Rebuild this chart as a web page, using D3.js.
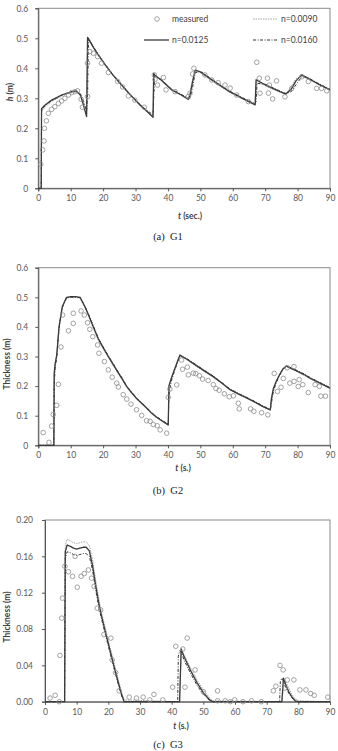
<!DOCTYPE html>
<html>
<head>
<meta charset="utf-8">
<script src="https://cdn.jsdelivr.net/npm/d3@7"></script>
<style>
  body { margin: 0; background: #fff; }
  svg { display: block; font-family: Lato, "Open Sans", sans-serif; }
  .tick text { fill: #595959; font-size: 8.5px; }
  .ttl { font-size: 8.5px; font-weight: bold; fill: #404040; }
  .cap { font-family: "Liberation Serif", serif; font-size: 10.5px; fill: #222; }
  .leg { font-size: 8.5px; fill: #404040; }
</style>
</head>
<body>
<svg id="chart" width="338" height="751"></svg>
<script>
// ---- G1 ----
const tG1 = [0, 0.9, 1.0, 2, 4.1, 7.2, 10.3, 11.8, 13, 14, 14.9, 15.2, 15.5, 17, 18.5, 20.6, 23, 25.7, 28, 30.9, 33, 35.4, 35.6, 35.9, 38, 41.2, 44, 46.3, 46.8, 47.5, 48.4, 50, 54, 59, 63, 66.9, 67.2, 67.5, 70, 72, 74.6, 76.4, 78, 79.5, 81.3, 83, 86, 90];
const g1n0090 = [0, 0, 0.255, 0.27, 0.289, 0.307, 0.319, 0.322, 0.312, 0.28, 0.245, 0.5, 0.495, 0.468, 0.443, 0.41, 0.376, 0.342, 0.314, 0.281, 0.26, 0.24, 0.38, 0.375, 0.358, 0.326, 0.31, 0.298, 0.318, 0.36, 0.392, 0.385, 0.355, 0.32, 0.298, 0.28, 0.358, 0.356, 0.342, 0.332, 0.32, 0.315, 0.338, 0.365, 0.375, 0.365, 0.348, 0.326];
const g1n0125 = [0, 0, 0.265, 0.277, 0.294, 0.311, 0.322, 0.324, 0.31, 0.275, 0.239, 0.503, 0.498, 0.47, 0.445, 0.412, 0.378, 0.344, 0.316, 0.283, 0.262, 0.237, 0.383, 0.378, 0.36, 0.328, 0.312, 0.296, 0.31, 0.35, 0.394, 0.388, 0.358, 0.322, 0.3, 0.278, 0.362, 0.36, 0.345, 0.335, 0.322, 0.314, 0.33, 0.358, 0.378, 0.368, 0.35, 0.328];
const g1n0160 = [0, 0, 0.26, 0.275, 0.292, 0.31, 0.322, 0.325, 0.315, 0.29, 0.255, 0.31, 0.5, 0.472, 0.447, 0.414, 0.38, 0.346, 0.318, 0.285, 0.264, 0.245, 0.3, 0.375, 0.362, 0.33, 0.314, 0.3, 0.3, 0.33, 0.385, 0.39, 0.36, 0.324, 0.302, 0.282, 0.29, 0.35, 0.347, 0.337, 0.324, 0.316, 0.322, 0.345, 0.372, 0.37, 0.352, 0.33];
const g1MeasT = [0.74, 1.35, 1.75, 1.9, 2.5, 3.1, 4.1, 5.1, 6.2, 7.2, 8.2, 9.3, 10.3, 11.3, 12.1, 13.2, 13.6, 15.2, 15.2, 15.9, 17, 18.3, 19.5, 21.6, 24.5, 26, 27.8, 29.8, 32.7, 35.8, 36, 36.8, 38.6, 39.4, 42.2, 46.3, 46.8, 47.6, 48, 51.4, 53.5, 55.5, 57.6, 59.2, 61.2, 64.8, 67.4, 68.2, 68.4, 70.7, 71, 72.3, 73.5, 71.3, 76.1, 78.2, 81.3, 83.3, 85.9, 87.4, 89];
const g1MeasH = [0.08, 0.128, 0.158, 0.2, 0.225, 0.25, 0.263, 0.272, 0.283, 0.291, 0.3, 0.311, 0.319, 0.322, 0.325, 0.297, 0.27, 0.417, 0.306, 0.456, 0.45, 0.439, 0.417, 0.386, 0.356, 0.338, 0.308, 0.294, 0.27, 0.378, 0.363, 0.344, 0.369, 0.328, 0.322, 0.306, 0.317, 0.381, 0.4, 0.378, 0.361, 0.352, 0.344, 0.334, 0.311, 0.289, 0.42, 0.367, 0.317, 0.367, 0.317, 0.298, 0.358, 0.344, 0.305, 0.333, 0.372, 0.356, 0.333, 0.333, 0.325];

// ---- G2 ----
const tG2 = [0, 4.8, 4.9, 5.2, 5.7, 6.4, 7.4, 8.7, 10, 11.5, 12.9, 14.4, 15.5, 17, 18.5, 20, 21.6, 23, 24.5, 26, 27.3, 29, 30.5, 31.9, 33.5, 35, 36.5, 38, 40.1, 40.3, 41, 42, 43, 43.7, 46, 48, 51, 54, 57, 59.2, 62, 64.3, 67, 69.5, 71.6, 71.9, 72.5, 73.3, 74.5, 75.5, 76.5, 78, 80, 82, 84, 86, 88, 90];
const g2n0090 = [0, 0, 0.25, 0.28, 0.31, 0.405, 0.47, 0.498, 0.5, 0.5, 0.497, 0.463, 0.435, 0.395, 0.355, 0.326, 0.296, 0.271, 0.245, 0.219, 0.196, 0.173, 0.154, 0.14, 0.123, 0.106, 0.093, 0.082, 0.067, 0.205, 0.228, 0.258, 0.287, 0.302, 0.287, 0.272, 0.25, 0.229, 0.205, 0.186, 0.17, 0.158, 0.143, 0.128, 0.118, 0.16, 0.193, 0.215, 0.242, 0.26, 0.266, 0.258, 0.248, 0.237, 0.224, 0.213, 0.202, 0.191];
const g2n0125 = [0, 0, 0.24, 0.275, 0.305, 0.40, 0.468, 0.50, 0.502, 0.502, 0.50, 0.468, 0.44, 0.40, 0.36, 0.33, 0.30, 0.275, 0.248, 0.222, 0.198, 0.175, 0.156, 0.142, 0.125, 0.108, 0.095, 0.084, 0.069, 0.2, 0.225, 0.255, 0.285, 0.305, 0.29, 0.275, 0.253, 0.232, 0.207, 0.188, 0.172, 0.16, 0.145, 0.13, 0.12, 0.155, 0.19, 0.213, 0.24, 0.258, 0.268, 0.26, 0.25, 0.239, 0.226, 0.215, 0.204, 0.193];
const g2n0160 = [0, 0, 0.2, 0.26, 0.298, 0.395, 0.465, 0.497, 0.5, 0.5, 0.499, 0.47, 0.443, 0.403, 0.363, 0.333, 0.303, 0.278, 0.251, 0.225, 0.2, 0.177, 0.158, 0.144, 0.127, 0.11, 0.097, 0.086, 0.071, 0.17, 0.215, 0.25, 0.282, 0.303, 0.292, 0.277, 0.255, 0.234, 0.209, 0.19, 0.174, 0.162, 0.147, 0.132, 0.122, 0.14, 0.18, 0.208, 0.237, 0.256, 0.268, 0.262, 0.252, 0.241, 0.228, 0.217, 0.206, 0.195];
const g2MeasT = [1.5, 3.3, 4.1, 4.6, 5.7, 6.2, 7.0, 7.5, 9.3, 10.8, 10.8, 13.2, 14.2, 15.2, 15.9, 16.8, 18.3, 18.7, 20.4, 21.6, 22.8, 24.2, 24.7, 26.2, 27.3, 28.6, 30.3, 31.9, 33.4, 34.5, 35.5, 36.7, 37.6, 39.6, 40.1, 40.6, 42.7, 44.2, 44.5, 46, 46.3, 47.8, 48.6, 49.7, 50.7, 52.4, 54, 54.8, 55.8, 57.4, 58.9, 60.2, 61.7, 62, 65.5, 66.5, 68.9, 70.8, 72.8, 73.8, 74.9, 75.6, 76.8, 78.9, 77.6, 78.9, 80.5, 80.2, 81.6, 83.3, 85.4, 86.7, 87.2, 88.6];
const g2MeasH = [0.043, 0.01, 0.065, 0.104, 0.135, 0.206, 0.332, 0.44, 0.387, 0.412, 0.446, 0.454, 0.44, 0.414, 0.392, 0.367, 0.339, 0.311, 0.283, 0.255, 0.23, 0.21, 0.197, 0.171, 0.156, 0.139, 0.12, 0.101, 0.083, 0.081, 0.07, 0.066, 0.052, 0.041, 0.162, 0.19, 0.204, 0.288, 0.257, 0.264, 0.238, 0.244, 0.242, 0.235, 0.224, 0.219, 0.205, 0.192, 0.186, 0.174, 0.164, 0.167, 0.142, 0.123, 0.123, 0.115, 0.11, 0.103, 0.243, 0.182, 0.196, 0.226, 0.262, 0.266, 0.21, 0.216, 0.222, 0.199, 0.205, 0.178, 0.205, 0.199, 0.166, 0.166];

// ---- G3 ----
const tG3 = [0, 6.2, 6.4, 7, 8, 9, 10, 11, 12, 13, 14, 15, 16, 17, 18, 20, 22, 24, 25, 41.9, 42.1, 42.5, 43, 44, 46, 48, 50, 52, 53, 74.1, 74.3, 74.8, 75.3, 76, 77, 78, 79, 80, 90];
const g3n0090 = [0, 0, 0.172, 0.179, 0.177, 0.175, 0.174, 0.175, 0.176, 0.176, 0.172, 0.157, 0.134, 0.113, 0.096, 0.068, 0.04, 0.013, 0.002, 0, 0, 0, 0.055, 0.051, 0.037, 0.024, 0.013, 0.004, 0.001, 0, 0, 0, 0.016, 0.022, 0.015, 0.008, 0.003, 0.001, 0];
const g3n0125 = [0, 0, 0.165, 0.1725, 0.171, 0.169, 0.168, 0.169, 0.17, 0.17, 0.166, 0.15, 0.128, 0.108, 0.092, 0.064, 0.036, 0.01, 0, 0, 0, 0, 0.058, 0.049, 0.034, 0.021, 0.01, 0.002, 0, 0, 0, 0, 0.026, 0.019, 0.011, 0.005, 0.001, 0, 0];
const g3n0160 = [0, 0, 0.158, 0.165, 0.164, 0.162, 0.161, 0.162, 0.163, 0.163, 0.16, 0.145, 0.123, 0.104, 0.089, 0.061, 0.034, 0.008, 0, 0, 0.05, 0.056, 0.055, 0.045, 0.031, 0.018, 0.008, 0.001, 0, 0, 0.022, 0.026, 0.023, 0.016, 0.009, 0.004, 0.001, 0, 0];
const g3MeasT = [1.6, 3.2, 4.5, 4.7, 5.3, 5.5, 6.3, 7.4, 8.7, 9.5, 10.2, 11.4, 12.4, 13.7, 14.7, 15.5, 16.5, 17.6, 18.6, 20.8, 21.2, 22.3, 23.4, 26.6, 28.9, 31, 33.1, 34.4, 37.2, 40.3, 41.3, 43.5, 44.9, 44.2, 47.4, 50, 54.5, 54.5, 56.9, 58.5, 59.9, 62.5, 65.2, 68.3, 72.1, 72.9, 74.2, 75.2, 75.8, 76.5, 78.6, 80.5, 82.4, 83.9, 85, 89.3];
const g3MeasH = [0.004, 0.007, 0, 0.051, 0.092, 0.114, 0.149, 0.143, 0.138, 0.16, 0.126, 0.138, 0.141, 0.145, 0.136, 0.127, 0.103, 0.101, 0.074, 0.07, 0.046, 0.032, 0.012, 0.005, 0.004, 0.005, 0.002, 0.008, 0.002, 0.016, 0.061, 0.058, 0.07, 0.016, 0.035, 0.011, 0.012, 0.001, 0.001, 0, 0.002, 0, 0.001, 0, 0.012, 0.017, 0.04, 0.035, 0.015, 0.024, 0.024, 0.013, 0.013, 0.009, 0.007, 0.005];

const xTicks = [0, 10, 20, 30, 40, 50, 60, 70, 80, 90];
const yTicksG1 = [0, 0.1, 0.2, 0.3, 0.4, 0.5, 0.6];
const yTicksG3 = [0, 0.04, 0.08, 0.12, 0.16, 0.20];

const svg = d3.select("#chart");

const styles = {
    n0090: { stroke: "#a6a6a6", width: 1, dash: "1.5,1" },
    n0160: { stroke: "#333", width: 1, dash: "3,1.5,1,1.5" },
    n0125: { stroke: "#3a3a3a", width: 1.3, dash: null }
};

function drawPanel(p) {
    const x = d3.scaleLinear().domain([0, 90]).range([p.left, 330]);
    const y = d3.scaleLinear().domain([0, p.yMax]).range([p.bottom, p.top]);

    // frame
    svg.append("rect")
        .attr("x", p.left).attr("y", p.top)
        .attr("width", 330 - p.left).attr("height", p.bottom - p.top)
        .attr("fill", "none").attr("stroke", "#8a8a8a").attr("stroke-width", 1);

    const xAxis = svg.append("g")
        .attr("transform", `translate(0,${p.bottom})`)
        .call(d3.axisBottom(x).tickValues(xTicks).tickSize(3).tickPadding(4).tickFormat(d3.format("d")));
    const yAxis = svg.append("g")
        .attr("transform", `translate(${p.left},0)`)
        .call(d3.axisLeft(y).tickValues(p.yTicks).tickSize(3).tickPadding(p.yPad).tickFormat(p.yFmt));
    [xAxis, yAxis].forEach(a => {
        a.select(".domain").attr("stroke", "#555");
        a.selectAll(".tick line").attr("stroke", "#555");
        a.selectAll(".tick text").style("font-family", "Lato, sans-serif");
    });

    const line = d3.line().x((d, i) => x(p.t[i])).y(d => y(d));
    ["n0090", "n0160", "n0125"].forEach(k => {
        const s = styles[k];
        svg.append("path")
            .datum(p[k])
            .attr("d", line)
            .attr("fill", "none")
            .attr("stroke", s.stroke)
            .attr("stroke-width", s.width)
            .attr("stroke-dasharray", s.dash)
            .attr("stroke-linejoin", "round");
    });

    svg.append("g").selectAll("circle")
        .data(p.mT)
        .join("circle")
        .attr("cx", d => x(d))
        .attr("cy", (d, i) => y(p.mH[i]))
        .attr("r", 2.3)
        .attr("fill", "none")
        .attr("stroke", "#8c8c8c")
        .attr("stroke-width", 0.8);

    // y title
    const yt = svg.append("text").attr("class", "ttl")
        .attr("transform", `translate(${p.yTitleX},${p.yTitleY}) rotate(-90)`)
        .attr("text-anchor", "middle");
    if (p.yItalic) {
        yt.append("tspan").attr("font-style", "italic").text(p.yItalic);
    }
    yt.append("tspan").text(p.yTitle);

    const xt = svg.append("text").attr("class", "ttl")
        .attr("x", p.xTitleX).attr("y", p.xTitleY)
        .attr("text-anchor", "middle");
    xt.append("tspan").attr("font-style", "italic").text("t");
    xt.append("tspan").text(p.xTitle);

    svg.append("text").attr("class", "cap")
        .attr("x", 168).attr("y", p.capY)
        .attr("text-anchor", "middle")
        .attr("xml:space", "preserve")
        .text(p.caption);
}

drawPanel({
    left: 38.3, top: 8.3, bottom: 188.3, yMax: 0.6, yTicks: yTicksG1, yFmt: d3.format(""), yPad: 7,
    t: tG1, n0090: g1n0090, n0125: g1n0125, n0160: g1n0160, mT: g1MeasT, mH: g1MeasH,
    yItalic: "h", yTitle: " (m)", yTitleX: 13, yTitleY: 92,
    xTitle: " (sec.)", xTitleX: 190, xTitleY: 219, caption: "(a)  G1", capY: 240
});
drawPanel({
    left: 38.3, top: 267.7, bottom: 445.3, yMax: 0.6, yTicks: yTicksG1, yFmt: d3.format(""), yPad: 7,
    t: tG2, n0090: g2n0090, n0125: g2n0125, n0160: g2n0160, mT: g2MeasT, mH: g2MeasH,
    yItalic: null, yTitle: "Thickness (m)", yTitleX: 9.5, yTitleY: 364,
    xTitle: " (s.)", xTitleX: 183, xTitleY: 471, caption: "(b)  G2", capY: 494
});
drawPanel({
    left: 45, top: 520, bottom: 701.7, yMax: 0.2, yTicks: yTicksG3, yFmt: d3.format(".2f"), yPad: 9,
    t: tG3, n0090: g3n0090, n0125: g3n0125, n0160: g3n0160, mT: g3MeasT, mH: g3MeasH,
    yItalic: null, yTitle: "Thickness (m)", yTitleX: 9.5, yTitleY: 617,
    xTitle: " (s.)", xTitleX: 181, xTitleY: 729, caption: "(c)  G3", capY: 748
});

// legend (panel a)
const legRows = [
    { key: "measured", x: 157, y: 19, type: "circle" },
    { key: "n0090", label: "n=0.0090", x: 253, y: 19, type: "line" },
    { key: "n0125", label: "n=0.0125", x: 144, y: 40, type: "line" },
    { key: "n0160", label: "n=0.0160", x: 253, y: 40, type: "line" }
];
legRows.forEach(r => {
    if (r.type === "circle") {
        svg.append("circle").attr("cx", r.x).attr("cy", r.y).attr("r", 2.3)
            .attr("fill", "none").attr("stroke", "#8c8c8c").attr("stroke-width", 0.8);
        svg.append("text").attr("class", "leg").attr("x", r.x + 15).attr("y", r.y + 3).text("measured");
    } else {
        const s = styles[r.key];
        svg.append("line").attr("x1", r.x).attr("x2", r.x + 25).attr("y1", r.y).attr("y2", r.y)
            .attr("stroke", s.stroke).attr("stroke-width", s.width).attr("stroke-dasharray", s.dash);
        svg.append("text").attr("class", "leg").attr("x", r.x + 28).attr("y", r.y + 3).text(r.label);
    }
});
</script>
</body>
</html>
